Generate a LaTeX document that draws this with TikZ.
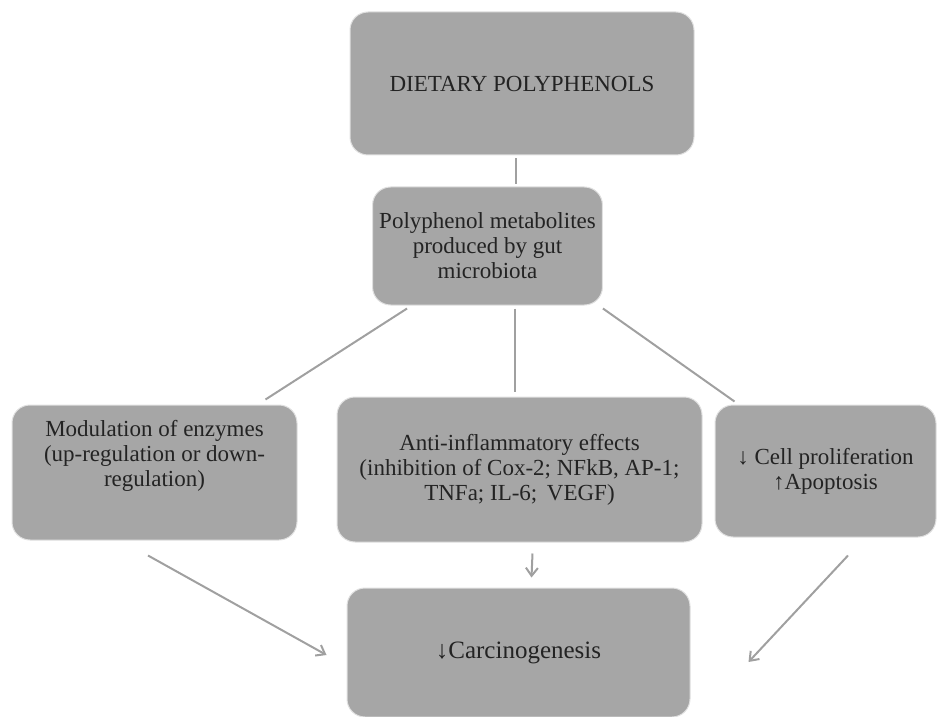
\documentclass[tikz,border=0pt]{standalone}
\usepackage{fontspec}
\setmainfont{Liberation Serif}
\usetikzlibrary{arrows.meta}

\definecolor{boxgray}{RGB}{166,166,166}
\definecolor{linkgray}{RGB}{160,160,160}
\definecolor{textgray}{RGB}{35,35,35}

\begin{document}
\begin{tikzpicture}
  [
    x=.5pt,
    y=-.5pt,
    box/.style={
      rectangle,
      rounded corners=9pt,
      fill=boxgray,
      draw=black!12,
      line width=.5pt,
      text=textgray,
      align=center,
      font=\fontsize{11.5}{12.5}\selectfont
    },
    link/.style={
      draw=linkgray,
      line width=1pt
    },
    arr/.style={
      link,
      -{Straight Barb[length=4pt,width=6pt]}
    }
  ]

  \useasboundingbox (0,0) rectangle (938,717);

  \node [box,minimum width=172pt,minimum height=71.5pt] (diet) at (522,83.5) {DIETARY POLYPHENOLS};
  \node [box,minimum width=110.5pt,minimum height=59pt] (metab) at (487.5,246)
    {Polyphenol metabolites\\produced by gut\\microbiota};

  \node [box,minimum width=142.5pt,minimum height=67.5pt] (enz) at (154.5,472.5)
    {Modulation of enzymes\\(up-regulation or down-\\regulation)\\[7pt]};
  \node [box,minimum width=182.5pt,minimum height=72.5pt] (infl) at (519.5,469.5)
    {Anti-inflammatory effects\\(inhibition of Cox-2; NFkB, AP-1;\\TNFa; IL-6;\, VEGF)};
  \node [box,minimum width=110.5pt,minimum height=66pt] (prolif) at (825.5,471)
    {↓ Cell proliferation\\↑Apoptosis};

  \node [box,minimum width=171.5pt,minimum height=64.5pt,font=\fontsize{12.5}{14}\selectfont] (carc) at (518.5,652.5) {↓Carcinogenesis};

  % links
  \draw [link] ([xshift=-3pt,yshift=-1.5pt]diet.south) -- ([xshift=-3pt,yshift=1pt]diet.south |- metab.north);
  \draw [link] ([xshift=17.5pt,yshift=-1.5pt]metab.south west) -- ([xshift=-16pt,yshift=2.5pt]enz.north east);
  \draw [link] ([xshift=13.75pt,yshift=-1.5pt]metab.south) -- ([xshift=-2.25pt,yshift=2.5pt]infl.north);
  \draw [link] ([yshift=-1.5pt]metab.south east) -- ([xshift=10pt,yshift=1.5pt]prolif.north west);

  % arrows
  \draw [arr] ([xshift=-3.25pt,yshift=-7.5pt]enz.south) -- ([xshift=-10pt,yshift=-1.25pt]carc.west);
  \draw [arr] ([xshift=6.5pt,yshift=-5.5pt]infl.south) -- ([xshift=6.5pt,yshift=5pt]carc.north);
  \draw [arr] ([xshift=11.25pt,yshift=-9pt]prolif.south) -- ([xshift=29pt,yshift=-4.75pt]carc.east);

\end{tikzpicture}
\end{document}
